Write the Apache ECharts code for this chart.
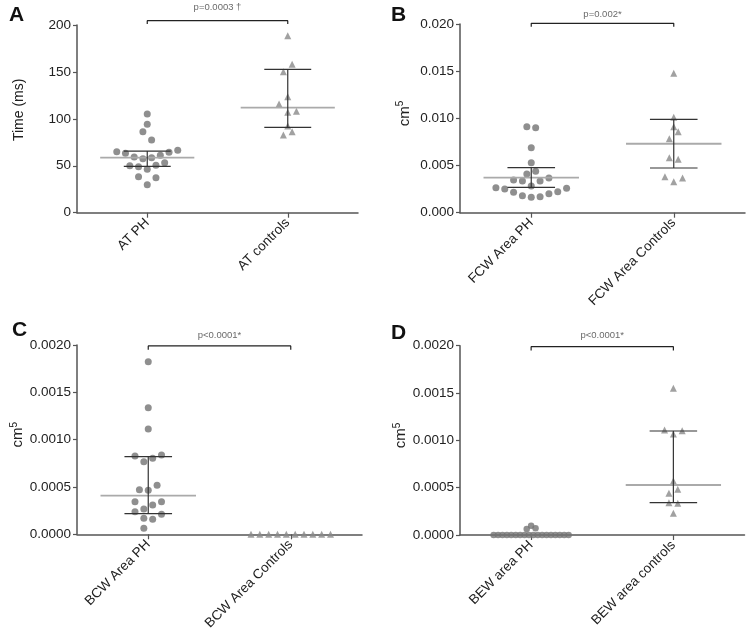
<!DOCTYPE html>
<html>
<head>
<meta charset="utf-8">
<script src="https://cdn.jsdelivr.net/npm/echarts@6/dist/echarts.min.js"></script>
<style>
  html, body { margin: 0; padding: 0; background: #fff; }
  #chart { width: 746px; height: 642px; }
</style>
</head>
<body>
<div id="chart"></div>
<script>
// 数据
const catsA = ['AT PH', 'AT controls'];
const catsB = ['FCW Area PH', 'FCW Area Controls'];
const catsC = ['BCW Area PH', 'BCW Area Controls'];
const catsD = ['BEW area PH', 'BEW area controls'];

const pTexts = ['p=0.0003 †', 'p=0.002*', 'p<0.0001*', 'p<0.0001*'];

// A
const atPH = [105.2, 94.2, 86.3, 77.5, 65, 63.3, 66.5, 64.4, 59.3, 57.5, 58.6, 61.2, 50.1, 49, 46.2, 50.5, 53.3, 38.4, 37.3, 29.8];
const atPHJitter = [0, 0, -0.5, 0.5, -3.5, -2.5, 3.5, 2.5, -1.5, -0.5, 0.5, 1.5, -2, -1, 0, 1, 2, -1, 1, 0];
const atPHStats = [49.4, 58.6, 65.7];
const atCtrl = [188.6, 158.1, 150.2, 123.6, 115.8, 107, 108, 92.4, 82.8, 86.3];
const atCtrlJitter = [0, 0.5, -0.5, 0, -1, 0, 1, 0, -0.5, 0.5];
const atCtrlStats = [91.0, 111.9, 152.8];

// B
const fcwPH = [0.00911, 0.00901, 0.00689, 0.00530, 0.00410, 0.00439, 0.00347, 0.00336, 0.00336, 0.00368, 0.00283, 0.00265, 0.00251, 0.00216, 0.00180, 0.00163, 0.00170, 0.00201, 0.00223, 0.00259];
const fcwPHJitter = [-0.5, 0.5, 0, 0, -0.5, 0.5, -2, -1, 1, 2, 0, -4, -3, -2, -1, 0, 1, 2, 3, 4];
const fcwPHStats = [0.00269, 0.00371, 0.00477];
const fcwCtrl = [0.01477, 0.01011, 0.00912, 0.00859, 0.00784, 0.00583, 0.00566, 0.00382, 0.00329, 0.00368];
const fcwCtrlJitter = [0, 0, 0, 0.5, -0.5, -0.5, 0.5, -1, 0, 1];
const fcwCtrlStats = [0.00474, 0.00731, 0.00990];

// C
const bcwPH = [0.001824, 0.001338, 0.001113, 0.000827, 0.000838, 0.000767, 0.000803, 0.000471, 0.000465, 0.000518, 0.000345, 0.000345, 0.000267, 0.000310, 0.000239, 0.000211, 0.000169, 0.000158, 0.000063];
const bcwPHJitter = [0, 0, 0, -1.5, 1.5, -0.5, 0.5, -1, 0, 1, -1.5, 1.5, -0.5, 0.5, -1.5, 1.5, -0.5, 0.5, -0.5];
const bcwPHStats = [0.000218, 0.000408, 0.000820];
const bcwCtrl = [0, 0, 0, 0, 0, 0, 0, 0, 0, 0];
const bcwCtrlJitter = [-4.5, -3.5, -2.5, -1.5, -0.5, 0.5, 1.5, 2.5, 3.5, 4.5];
const bcwCtrlStats = [0, 0, 0];

// D
const bewPH = [0, 0, 0, 0, 0, 0, 0, 0, 0, 0, 0, 0, 0, 0, 0, 0, 0, 0, 0.000098, 0.00007, 0.000063];
const bewPHJitter = [-4.25, -3.75, -3.25, -2.75, -2.25, -1.75, -1.25, -0.75, -0.25, 0.25, 0.75, 1.25, 1.75, 2.25, 2.75, 3.25, 3.75, 4.25, 0, 0.5, -0.5];
const bewPHStats = [0, 0, 0];
const bewCtrl = [0.001550, 0.001109, 0.001102, 0.001067, 0.000571, 0.000483, 0.000440, 0.000341, 0.000335, 0.000230];
const bewCtrlJitter = [0, -1, 1, 0, 0, 0.5, -0.5, -0.5, 0.5, 0];
const bewCtrlStats = [0.000341, 0.000528, 0.001099];

// bracket [low end, top], p-text centre
const bracketA = [201, 204.6, 218.9];
const bracketB = [0.0197, 0.02007, 0.02103];
const bracketC = [0.00195, 0.00199, 0.002106];
const bracketD = [0.00195, 0.00199, 0.002113];

const STEP = 0.062;   // jitter step in category units
const MED_HALF = 0.335;
const IQR_HALF = 0.167;
const FONT = 'Liberation Sans, Arial, sans-serif';
const DARK = '#333';

const chart = echarts.init(document.getElementById('chart'));

const grids = [
  {left: 77, top: 25, width: 281, height: 187.7},
  {left: 460, top: 24, width: 285, height: 188.7},
  {left: 77, top: 345, width: 285, height: 189.3},
  {left: 460, top: 345.7, width: 284.5, height: 189.3}
];

function xAxis(i, cats) {
  return {
    gridIndex: i, type: 'value', min: -0.5, max: 1.5,
    axisLine: {show: true, onZero: false, lineStyle: {color: '#555', width: 1.5}},
    axisTick: {show: true, customValues: [0, 1], length: 5, lineStyle: {color: '#555', width: 1.2}},
    axisLabel: {
      show: true, customValues: [0, 1], rotate: 45, margin: 8,
      formatter: v => cats[Math.round(v)], fontSize: 13.5, color: '#222', fontFamily: FONT
    },
    splitLine: {show: false}
  };
}

function yAxis(i, max, interval, digits, name, nameGap, pad) {
  return {
    gridIndex: i, type: 'value', min: 0, max: max, interval: interval,
    name: name, nameLocation: 'middle', nameGap: nameGap,
    nameTextStyle: {
      fontSize: 14, color: '#222', fontFamily: FONT, padding: [0, 0, 0, pad],
      rich: {
        a: {fontSize: 15, color: '#222', fontFamily: FONT},
        s: {fontSize: 10, color: '#222', fontFamily: FONT, verticalAlign: 'top', padding: [0, 0, 9, 0]}
      }
    },
    axisLine: {show: true, onZero: false, lineStyle: {color: '#555', width: 1.5}},
    axisTick: {show: true, length: 4, lineStyle: {color: '#555', width: 1.2}},
    axisLabel: {
      margin: 6, fontSize: 13.5, color: '#222', fontFamily: FONT,
      formatter: v => v.toFixed(digits)
    },
    splitLine: {show: false}
  };
}

function seg(i, pts, color, width) {
  return {
    type: 'line', xAxisIndex: i, yAxisIndex: i, data: pts,
    symbol: 'none', silent: true, animation: false, z: 5, clip: false,
    lineStyle: {color: color, width: width}
  };
}

function group(i, g, vals, jit, stats, symbol, color, size) {
  const out = [];
  out.push({
    type: 'scatter', xAxisIndex: i, yAxisIndex: i, symbol: symbol, symbolSize: size,
    itemStyle: {color: color}, silent: true, animation: false, clip: false, z: 3,
    data: vals.map((v, k) => [g + jit[k] * STEP, v])
  });
  const [q1, med, q3] = stats;
  if (q3 === 0) return out; // all-zero group: bars sit under the axis line
  out.push(seg(i, [[g - MED_HALF, med], [g + MED_HALF, med]], '#aaa', 1.8));
  out.push(seg(i, [[g - IQR_HALF, q1], [g + IQR_HALF, q1]], DARK, 1.2));
  out.push(seg(i, [[g - IQR_HALF, q3], [g + IQR_HALF, q3]], DARK, 1.2));
  out.push(seg(i, [[g, q1], [g, q3]], DARK, 1.2));
  return out;
}

function bracket(i, b, text) {
  return [
    seg(i, [[0, b[0]], [0, b[1]], [1, b[1]], [1, b[0]]], '#222', 1.2),
    {
      type: 'scatter', xAxisIndex: i, yAxisIndex: i, symbolSize: 0, silent: true,
      animation: false, clip: false, data: [[0.5, b[2]]],
      label: {show: true, position: 'inside', formatter: text, fontSize: 9.5, color: '#444', fontFamily: FONT}
    }
  ];
}

const series = [].concat(
  group(0, 0, atPH, atPHJitter, atPHStats, 'circle', '#737373', 7),
  group(0, 1, atCtrl, atCtrlJitter, atCtrlStats, 'triangle', '#8a8a8a', 7),
  bracket(0, bracketA, pTexts[0]),
  group(1, 0, fcwPH, fcwPHJitter, fcwPHStats, 'circle', '#737373', 7),
  group(1, 1, fcwCtrl, fcwCtrlJitter, fcwCtrlStats, 'triangle', '#8a8a8a', 7),
  bracket(1, bracketB, pTexts[1]),
  group(2, 0, bcwPH, bcwPHJitter, bcwPHStats, 'circle', '#737373', 7),
  group(2, 1, bcwCtrl, bcwCtrlJitter, bcwCtrlStats, 'triangle', '#8a8a8a', 7),
  bracket(2, bracketC, pTexts[2]),
  group(3, 0, bewPH, bewPHJitter, bewPHStats, 'circle', '#737373', 6.5),
  group(3, 1, bewCtrl, bewCtrlJitter, bewCtrlStats, 'triangle', '#8a8a8a', 7),
  bracket(3, bracketD, pTexts[3])
);

const letterStyle = {fontSize: 21, fontWeight: 'bold', color: '#111', fontFamily: FONT};

chart.setOption({
  backgroundColor: '#fff',
  animation: false,
  title: [
    {text: 'A', left: 9, top: 5, textStyle: letterStyle, padding: 0},
    {text: 'B', left: 391, top: 5, textStyle: letterStyle, padding: 0},
    {text: 'C', left: 12, top: 320, textStyle: letterStyle, padding: 0},
    {text: 'D', left: 391, top: 323, textStyle: letterStyle, padding: 0}
  ],
  grid: grids,
  xAxis: [xAxis(0, catsA), xAxis(1, catsB), xAxis(2, catsC), xAxis(3, catsD)],
  yAxis: [
    yAxis(0, 200, 50, 0, 'Time (ms)', 51, 18),
    yAxis(1, 0.02, 0.005, 3, '{a|cm}{s|5}', 46, 10),
    yAxis(2, 0.002, 0.0005, 4, '{a|cm}{s|5}', 37, 10),
    yAxis(3, 0.002, 0.0005, 4, '{a|cm}{s|5}', 47, 10)
  ],
  series: series
});
</script>
</body>
</html>
